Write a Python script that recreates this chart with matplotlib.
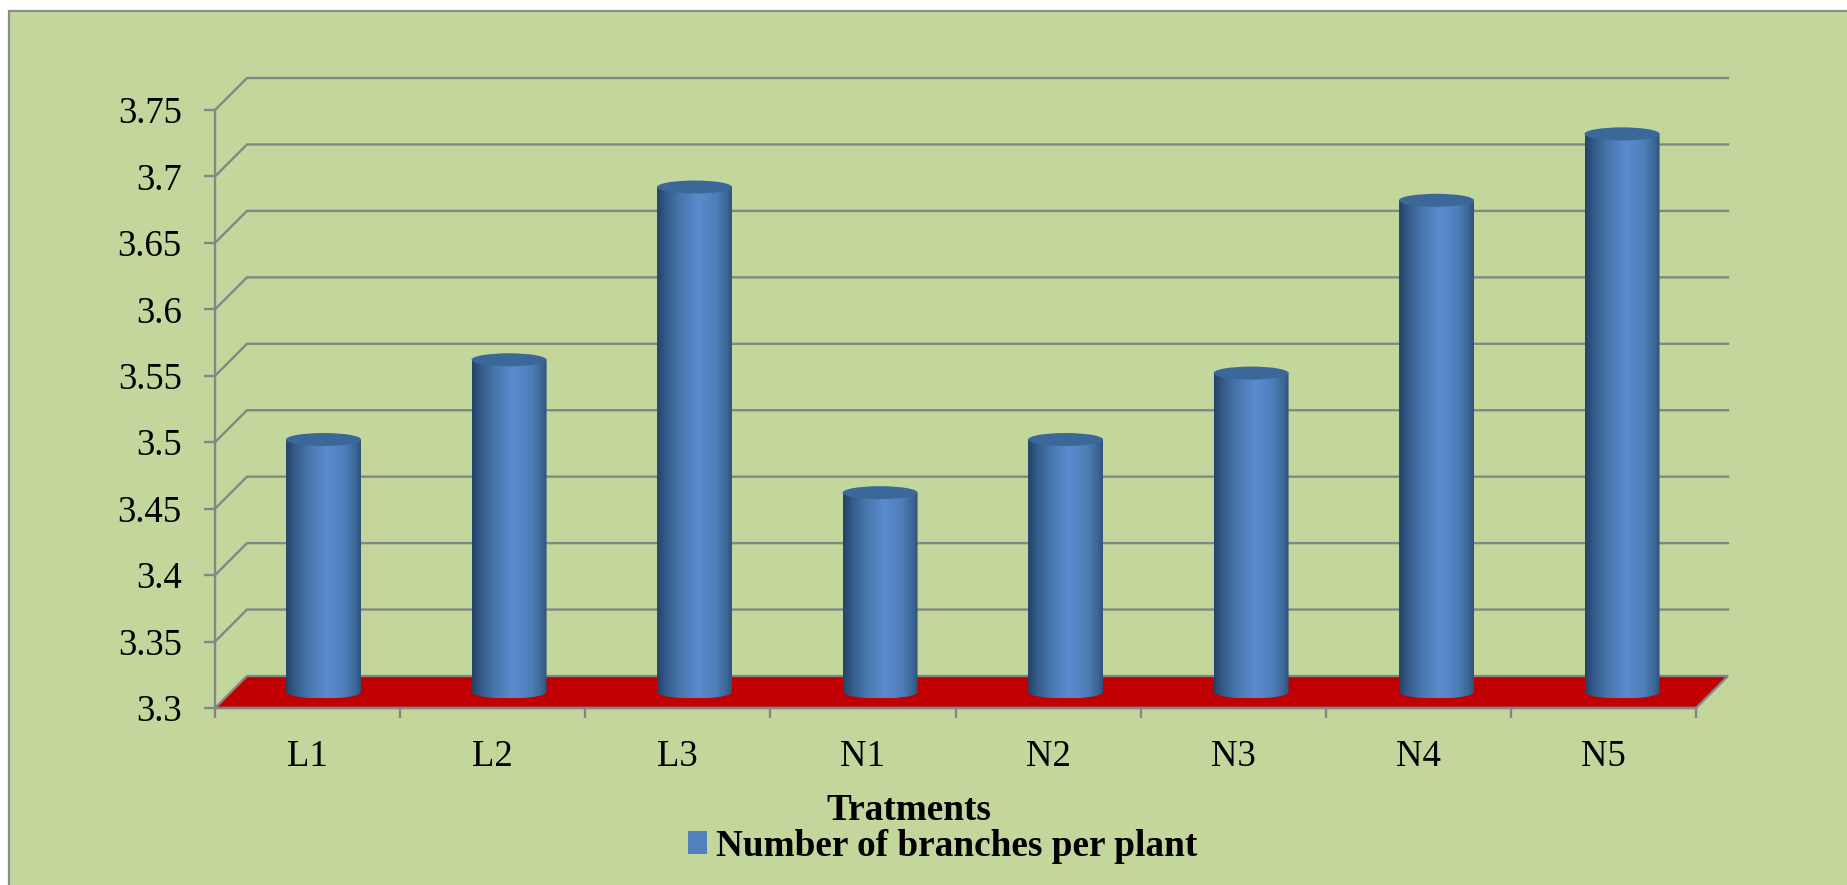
# -*- coding: utf-8 -*-
"""Cylinder column chart: number of branches per plant for each treatment."""

import numpy as np
import matplotlib
matplotlib.use('Agg')
import matplotlib.pyplot as plt
from matplotlib.colors import LinearSegmentedColormap
from matplotlib.patches import Ellipse, Patch, Polygon, Rectangle
from matplotlib.path import Path

# ----------------------------------------------------------------------
# data
# ----------------------------------------------------------------------
treatments = ['L1', 'L2', 'L3', 'N1', 'N2', 'N3', 'N4', 'N5']
branches = [3.49, 3.55, 3.68, 3.45, 3.49, 3.54, 3.67, 3.72]
y_ticks = [3.3, 3.35, 3.4, 3.45, 3.5, 3.55, 3.6, 3.65, 3.7, 3.75]
y_tick_labels = ['3.3', '3.35', '3.4', '3.45', '3.5', '3.55', '3.6', '3.65', '3.7', '3.75']

# ----------------------------------------------------------------------
# layout, in pixels of the 1847x885 picture
# ----------------------------------------------------------------------
W, H = 1847, 885
AX_LEFT, AX_RIGHT = 215, 1696
AX_TOP, AX_BOTTOM = 110, 708
DEPTH_PX = 32
BAR_PX = 75
CAP_PX = 6.5
PITCH_PX = 185.5   # cylinders sit a touch wider apart than the ticks

GRID = '#868686'
BG = '#c3d69b'
FLOOR = '#c00000'

plt.rcParams['font.family'] = ['Liberation Serif', 'DejaVu Serif']

fig = plt.figure(figsize=(W / 100, H / 100), dpi=100, facecolor='white')
fig.add_artist(Rectangle((9 / W, -0.05), 1.1, 1.05 - 11 / H, transform=fig.transFigure,
                         facecolor=BG, edgecolor='#8c8c8c', linewidth=1.6, zorder=-1))

ax = fig.add_axes([AX_LEFT / W, 1 - AX_BOTTOM / H,
                   (AX_RIGHT - AX_LEFT) / W, (AX_BOTTOM - AX_TOP) / H])
ax.patch.set_visible(False)

n = len(treatments)
ax.set_xlim(0, n)
ax.set_ylim(y_ticks[0], y_ticks[-1])

# pixel sizes -> data units
px_x = n / (AX_RIGHT - AX_LEFT)
px_y = (y_ticks[-1] - y_ticks[0]) / (AX_BOTTOM - AX_TOP)
dx, dy = DEPTH_PX * px_x, DEPTH_PX * px_y
half_w = BAR_PX * px_x / 2
cap_h = CAP_PX * px_y
pitch = PITCH_PX * px_x

# ----- back wall lines -----
for y in y_ticks[1:]:
    ax.plot([0, dx, n + dx], [y, y + dy, y + dy], color=GRID, lw=1.7,
            clip_on=False, zorder=1, solid_joinstyle='miter')

# ----- red floor -----
y0 = y_ticks[0]
ax.add_patch(Polygon([(0, y0), (n, y0), (n + dx, y0 + dy), (dx, y0 + dy)], closed=True,
                     facecolor=FLOOR, edgecolor=GRID, linewidth=1.7, clip_on=False, zorder=2))

# ----- cylinders -----
cyl_cmap = LinearSegmentedColormap.from_list('cyl', [
    (0.00, '#23426a'), (0.12, '#345b8a'), (0.28, '#4673a8'), (0.55, '#5a8dcf'),
    (0.80, '#4d7db7'), (0.94, '#3a6492'), (1.00, '#2f527c')])
shade = np.linspace(0, 1, 256).reshape(1, -1)
arc = np.linspace(np.pi, 2 * np.pi, 40)

for i, val in enumerate(branches):
    cx = 0.5 + i * pitch + dx / 2
    base = y0 + dy / 2
    top = val + dy / 2
    x_left, x_right = cx - half_w, cx + half_w
    im = ax.imshow(shade, cmap=cyl_cmap, aspect='auto', interpolation='bilinear',
                   extent=[x_left, x_right, base - cap_h, top], zorder=3)
    outline = [(x_left, top)]
    outline += list(zip(cx + half_w * np.cos(arc), base + cap_h * np.sin(arc)))
    outline += [(x_right, top), (x_left, top)]
    im.set_clip_path(Path(outline), transform=ax.transData)
    ax.add_patch(Ellipse((cx, top), 2 * half_w, 2 * cap_h, facecolor='#3b6899',
                         edgecolor='none', zorder=4))

ax.set_xlim(0, n)
ax.set_ylim(y_ticks[0], y_ticks[-1])

# ----- axes -----
for side in ['top', 'right']:
    ax.spines[side].set_visible(False)
for side in ['left', 'bottom']:
    ax.spines[side].set_color(GRID)
    ax.spines[side].set_linewidth(1.7)
    ax.spines[side].set_zorder(2.5)

ax.set_yticks(y_ticks)
ax.set_yticklabels(y_tick_labels, fontsize=26.5, color='black')
ax.tick_params(axis='y', length=8, width=1.7, color=GRID, pad=16)

ax.set_xticks(np.arange(n + 1))
ax.set_xticklabels([])
ax.set_xticks(np.arange(n) + 0.5, minor=True)
ax.set_xticklabels(treatments, minor=True, fontsize=26.5, color='black')
ax.tick_params(axis='x', which='major', length=7.5, width=1.7, color=GRID)
ax.tick_params(axis='x', which='minor', length=0, pad=23)

ax.set_xlabel('Tratments', fontsize=26.8, fontweight='bold', color='black')
ax.xaxis.set_label_coords((909 - AX_LEFT) / (AX_RIGHT - AX_LEFT),
                          -(793 - AX_BOTTOM) / (AX_BOTTOM - AX_TOP))

# ----- legend -----
handle = Patch(facecolor='#4f81bd', edgecolor='none', label='Number of branches per plant')
fig.legend(handles=[handle], loc='center', bbox_to_anchor=(943 / W, 1 - 846 / H),
           frameon=False, prop={'size': 26.8, 'weight': 'bold'},
           handlelength=0.51, handleheight=0.59, handletextpad=0.24,
           borderpad=0, borderaxespad=0)

fig.savefig('out.png', dpi=100, facecolor='white')
